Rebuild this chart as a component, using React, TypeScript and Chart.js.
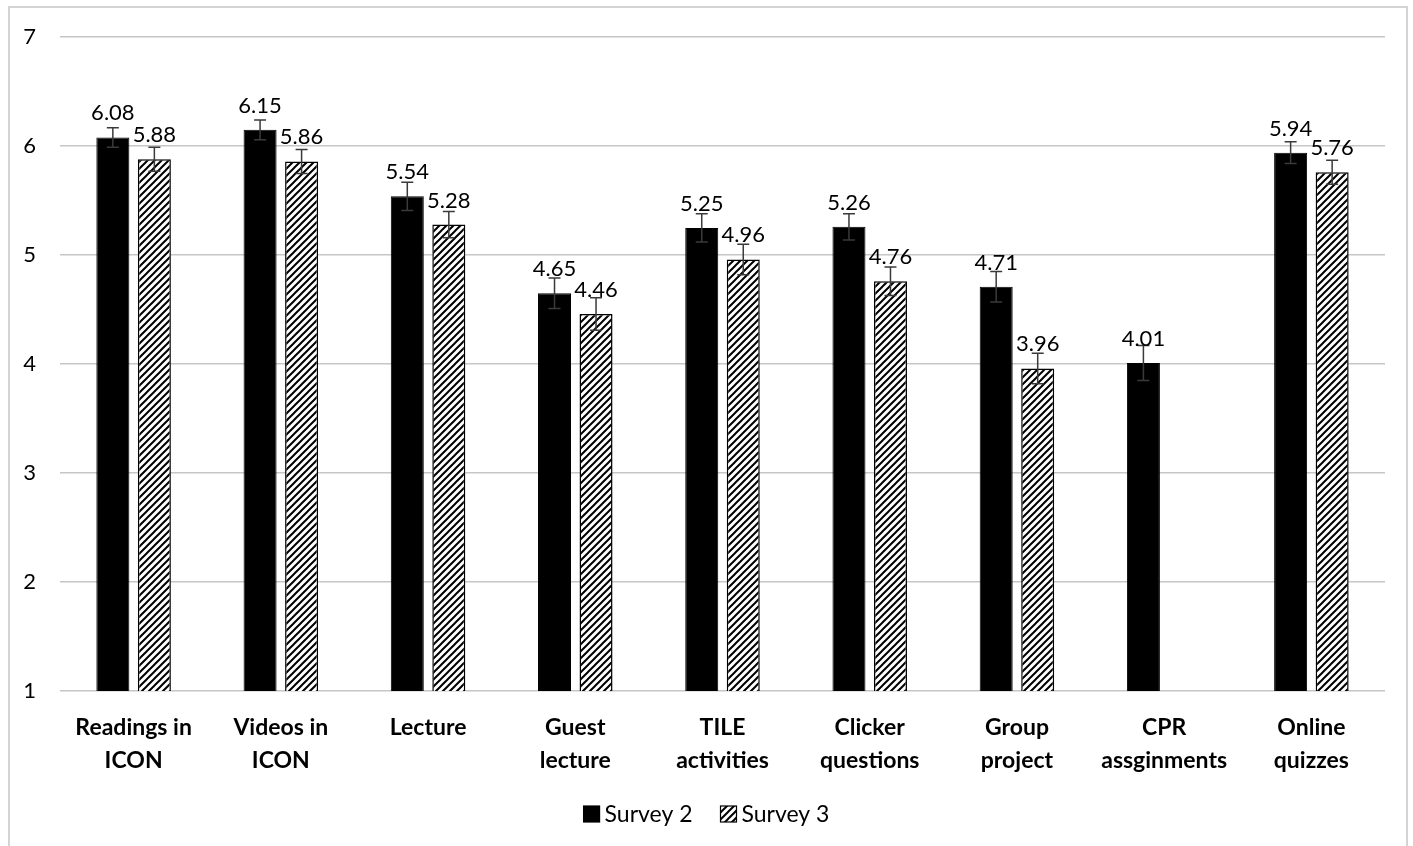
import React, { useEffect, useRef } from "react";
import { Chart, registerables } from "chart.js";

Chart.register(...registerables);

const categories: string[][] = [
  ["Readings in", "ICON"],
  ["Videos in", "ICON"],
  ["Lecture"],
  ["Guest", "lecture"],
  ["TILE", "activities"],
  ["Clicker", "questions"],
  ["Group", "project"],
  ["CPR", "assginments"],
  ["Online", "quizzes"],
];

const survey2: (number | null)[] = [6.08, 6.15, 5.54, 4.65, 5.25, 5.26, 4.71, 4.01, 5.94];
const survey3: (number | null)[] = [5.88, 5.86, 5.28, 4.46, 4.96, 4.76, 3.96, null, 5.76];
const survey2Err: (number | null)[] = [0.09, 0.09, 0.13, 0.14, 0.13, 0.12, 0.14, 0.16, 0.1];
const survey3Err: (number | null)[] = [0.11, 0.11, 0.12, 0.15, 0.14, 0.13, 0.14, null, 0.11];
const seriesNames = ["Survey 2", "Survey 3"];
const yTicks = [1, 2, 3, 4, 5, 6, 7];

const FONT = "Lato, 'Open Sans', sans-serif";

function makeHatch(): CanvasPattern | string {
  const c = document.createElement("canvas");
  const s = 7;
  c.width = s;
  c.height = s;
  const g = c.getContext("2d");
  if (!g) return "#fff";
  g.fillStyle = "#fff";
  g.fillRect(0, 0, s, s);
  g.strokeStyle = "#000";
  g.lineWidth = 2;
  g.beginPath();
  g.moveTo(0, s);
  g.lineTo(s, 0);
  g.moveTo(-1, 1);
  g.lineTo(1, -1);
  g.moveTo(s - 1, s + 1);
  g.lineTo(s + 1, s - 1);
  g.stroke();
  const p = g.createPattern(c, "repeat");
  return p || "#fff";
}

export default function App() {
  const ref = useRef<HTMLCanvasElement | null>(null);

  useEffect(() => {
    if (!ref.current) return;
    const hatch = makeHatch();
    const errs = [survey2Err, survey3Err];

    const overlay = {
      id: "overlay",
      afterDatasetsDraw(chart: any) {
        const ctx = chart.ctx;
        const y = chart.scales.y;
        ctx.save();
        chart.data.datasets.forEach((ds: any, di: number) => {
          const meta = chart.getDatasetMeta(di);
          meta.data.forEach((bar: any, i: number) => {
            const v = ds.data[i];
            const e = errs[di][i];
            if (v == null) return;
            if (e != null) {
              const yt = y.getPixelForValue(v + e);
              const yb = y.getPixelForValue(v - e);
              ctx.strokeStyle = "#3a3a3a";
              ctx.lineWidth = 1.5;
              ctx.beginPath();
              ctx.moveTo(bar.x, yt);
              ctx.lineTo(bar.x, yb);
              ctx.moveTo(bar.x - 6, yt);
              ctx.lineTo(bar.x + 6, yt);
              ctx.moveTo(bar.x - 6, yb);
              ctx.lineTo(bar.x + 6, yb);
              ctx.stroke();
            }
            ctx.fillStyle = "#000";
            ctx.font = `22px ${FONT}`;
            ctx.textAlign = "center";
            ctx.textBaseline = "alphabetic";
            ctx.fillText(v.toFixed(2), bar.x, bar.y - 17);
          });
        });
        ctx.restore();
      },
      afterDraw(chart: any) {
        const ctx = chart.ctx;
        ctx.save();
        ctx.font = `23px ${FONT}`;
        const box = 16;
        const gapBoxText = 5;
        const gapItems = 28;
        const items = chart.data.datasets.map((ds: any) => ({
          label: ds.label,
          fill: ds.backgroundColor,
          w: box + gapBoxText + ctx.measureText(ds.label).width,
        }));
        const total = items.reduce((a: number, it: any) => a + it.w, 0) + gapItems * (items.length - 1);
        let x = chart.width / 2 - total / 2;
        const cy = 814;
        items.forEach((it: any) => {
          ctx.fillStyle = it.fill;
          ctx.fillRect(x, cy - box / 2, box, box);
          ctx.strokeStyle = "#000";
          ctx.lineWidth = 1.2;
          ctx.strokeRect(x, cy - box / 2, box, box);
          ctx.fillStyle = "#000";
          ctx.textAlign = "left";
          ctx.textBaseline = "middle";
          ctx.fillText(it.label, x + box + gapBoxText, cy + 1);
          x += it.w + gapItems;
        });
        ctx.restore();
      },
    };

    const chart = new Chart(ref.current, {
      type: "bar",
      data: {
        labels: categories,
        datasets: [
          {
            label: seriesNames[0],
            data: survey2,
            backgroundColor: "#000",
            borderColor: "#000",
            borderWidth: 1,
          },
          {
            label: seriesNames[1],
            data: survey3,
            backgroundColor: hatch as any,
            borderColor: "#000",
            borderWidth: 1.5,
          },
        ],
      },
      options: {
        animation: false,
        responsive: false,
        devicePixelRatio: 1,
        datasets: {
          bar: {
            categoryPercentage: 0.564,
            barPercentage: 0.795,
          },
        },
        layout: {
          padding: { left: 0, right: 28, top: 35, bottom: 55 },
        },
        plugins: {
          legend: { display: false },
          tooltip: { enabled: false },
        },
        scales: {
          x: {
            grid: { display: false },
            border: { display: false },
            ticks: {
              color: "#000",
              font: { family: FONT, size: 23, weight: "bold", lineHeight: 1.43 },
              padding: 12,
              maxRotation: 0,
              autoSkip: false,
            },
            afterFit(scale: any) {
              scale.height = 100;
            },
          },
          y: {
            min: 1,
            max: 7,
            afterBuildTicks(scale: any) {
              scale.ticks = yTicks.map((v) => ({ value: v }));
            },
            grid: { color: "#c6c6c6", lineWidth: 1.5, drawTicks: false },
            border: { display: false },
            ticks: {
              color: "#000",
              font: { family: FONT, size: 22 },
              padding: 24,
            },
            afterFit(scale: any) {
              scale.width = 60;
            },
          },
        },
      },
      plugins: [overlay],
    });
    return () => chart.destroy();
  }, []);

  return (
    <div style={{ position: "absolute", left: 0, top: 0, width: 1413, height: 846, background: "#fff" }}>
      <div
        style={{
          position: "absolute",
          left: 8,
          top: 6,
          width: 1400,
          height: 842,
          border: "2px solid #d4d4d4",
          boxSizing: "border-box",
        }}
      />
      <canvas
        ref={ref}
        width={1413}
        height={846}
        style={{ position: "absolute", left: 0, top: 0, width: 1413, height: 846 }}
      />
    </div>
  );
}
